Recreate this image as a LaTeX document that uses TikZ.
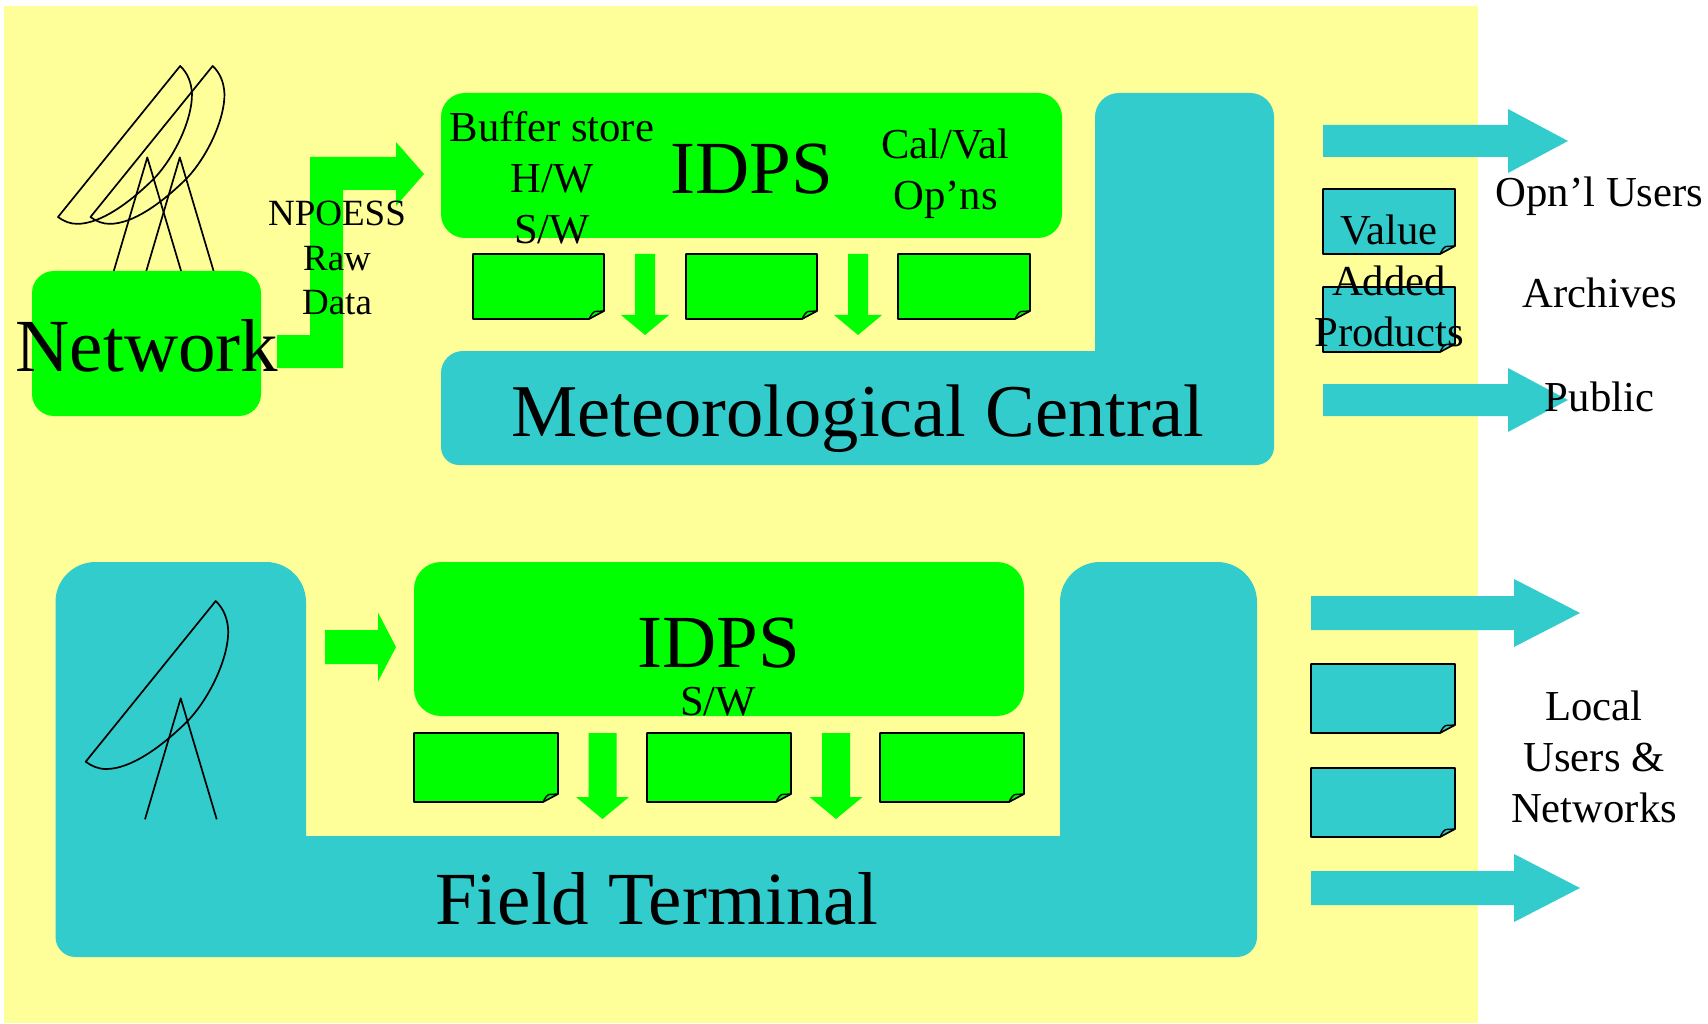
\documentclass[tikz,border=0pt]{standalone}
\usepackage{fontspec}
\setmainfont{Liberation Serif}
\definecolor{paleyellow}{HTML}{FFFF99}
\definecolor{brightgreen}{HTML}{00FF00}
\definecolor{tealblue}{HTML}{33CCCC}
\newcommand{\bigsize}{\fontsize{75}{75}\selectfont}
\newcommand{\metsize}{\fontsize{74.5}{75}\selectfont}
\newcommand{\midsize}{\fontsize{42.7}{51}\selectfont}
\newcommand{\smallsize}{\fontsize{37}{44.5}\selectfont}
\newcommand{\blockright}[7]{\fill[#7] (#1,#2-#5) -- (#3,#2-#5) -- (#3,#2-#6) -- (#4,#2) -- (#3,#2+#6) -- (#3,#2+#5) -- (#1,#2+#5) -- cycle;}
\newcommand{\blockdown}[6]{\fill[brightgreen] (#1-#4,#2) -- (#1+#4,#2) -- (#1+#4,#3) -- (#1+#5,#3) -- (#1,#6) -- (#1-#5,#3) -- (#1-#4,#3) -- cycle;}
\newcommand{\docpage}[5]{%
  \filldraw[fill=#5,draw=black,line width=1.7pt,line join=round] (#1,#2) -- (#3,#2) -- (#3,#4-8) -- (#3-15,#4) -- (#1,#4) -- cycle;
  \draw[line width=1.4pt,line join=round] (#3-15,#4) .. controls (#3-13,#4-4) and (#3-11,#4-7) .. (#3-9,#4-7.5) -- (#3,#4-8);}
\newcommand{\dishshape}{%
  \draw[line width=1.7pt,line join=round] (0,0) .. controls (6,4.5) and (13,7.5) .. (21,7.3) .. controls (45,7) and (75,-14) .. (102.3,-41) .. controls (125,-65) and (143,-105) .. (142.5,-131) .. controls (142,-143) and (138,-153) .. (130,-160.7) -- cycle;
  \draw[line width=1.7pt,line join=round] (59.3,57.6) -- (95,-63.4) -- (131,57.6);}
\tikzset{
  shapebox/.style={rounded corners=#1,inner sep=0pt,outer sep=0pt,draw=none},
  txt/.style={anchor=base,inner sep=0pt,outer sep=0pt,align=center,text=black},
  bigtxt/.style={txt,font=\bigsize},
  midtxt/.style={txt,font=\midsize},
  smalltxt/.style={txt,font=\smallsize}
}
\begin{document}
\begin{tikzpicture}[x=1pt,y=-1pt]
\useasboundingbox (0,0) rectangle (1708,1024);
\fill[white] (0,0) rectangle (1708,1024);
\fill[paleyellow] (4,6) rectangle (1478,1023);

% Top row: dishes
\begin{scope}[shift={(58,217)},scale=0.94]\dishshape\end{scope}
\begin{scope}[shift={(90.5,217)},scale=0.94]\dishshape\end{scope}

% Network box and data arrow
\fill[brightgreen] (277,335) -- (310,335) -- (310,157) -- (396,157) -- (396,142) -- (424,174) -- (396,206) -- (396,190) -- (343,190) -- (343,368) -- (277,368) -- cycle;
\node[shapebox=22pt,fill=brightgreen,minimum width=229pt,minimum height=145pt] (netbox) at (146.5,343.5) {};

% Meteorological central L shape
\fill[tealblue,rounded corners=24pt] (1095,351) -- (1095,93) -- (1274,93) -- (1274,300) -- (1274,360) [rounded corners=18pt] -- (1274,465) -- (441,465) [rounded corners=22pt] -- (441,351) [sharp corners] -- cycle;

% Upper IDPS
\node[shapebox=24pt,fill=brightgreen,minimum width=621pt,minimum height=145pt] (idpsa) at (751.5,165.5) {};
\docpage{473}{254}{604}{319}{brightgreen}
\docpage{686}{254}{817}{319}{brightgreen}
\docpage{898}{254}{1030}{319}{brightgreen}
\blockdown{645}{254}{315}{10}{24}{335}
\blockdown{858}{254}{315}{10}{24}{335}

% Upper right
\blockright{1323}{141}{1508}{1568}{16}{32}{tealblue}
\docpage{1323}{189}{1455}{254}{tealblue}
\docpage{1323}{287}{1455}{352}{tealblue}
\blockright{1323}{400}{1508}{1568}{16}{32}{tealblue}

% Field terminal L shape
\fill[tealblue,rounded corners=40pt] (306,836) -- (306,562) -- (55.5,562) -- (55.5,800) [rounded corners=20pt] -- (55.5,957) -- (1257,957) -- (1257,820) [rounded corners=40pt] -- (1257,562) -- (1060,562) [sharp corners] -- (1060,836) -- cycle;

% Lower dish
\begin{scope}[shift={(85.7,761.7)}]\dishshape\end{scope}

% Lower IDPS
\blockright{325}{647}{378}{396}{17}{34.5}{brightgreen}
\node[shapebox=27pt,fill=brightgreen,minimum width=610pt,minimum height=154pt] (idpsb) at (719,639) {};
\docpage{414}{733}{558}{802}{brightgreen}
\docpage{647}{733}{791}{802}{brightgreen}
\docpage{880}{733}{1024}{802}{brightgreen}
\blockdown{602.5}{733}{797}{14}{26.5}{819}
\blockdown{836}{733}{797}{14}{26.5}{819}

% Lower right
\blockright{1311}{613}{1514}{1580}{17}{34}{tealblue}
\docpage{1311}{664}{1455}{733}{tealblue}
\docpage{1311}{768}{1455}{837}{tealblue}
\blockright{1311}{888}{1514}{1580}{17}{34}{tealblue}

% Text
\node[bigtxt] (tnet) at (147,371) {Network};
\node[smalltxt] (traw) at (337,315) {NPOESS\\Raw\\Data};
\node[midtxt] (tbuf) at (552,244) {Buffer store\\H/W\\S/W};
\node[bigtxt] (tidpsa) at (751.5,194) {IDPS};
\node[midtxt] (tcal) at (945.5,210) {Cal/Val\\Op’ns};
\node[txt,font=\metsize] (tmet) at (858,436) {Meteorological Central};
\node[midtxt] (tval) at (1389,346) {Value\\Added\\Products};
\node[midtxt] (topn) at (1599.5,207) {Opn’l Users};
\node[midtxt] (tarc) at (1600,308) {Archives};
\node[midtxt] (tpub) at (1599.5,411) {Public};
\node[bigtxt] (tidpsb) at (719,667) {IDPS};
\node[midtxt] (tsw) at (718,715) {S/W};
\node[bigtxt] (tfield) at (656.5,924) {Field Terminal};
\node[midtxt] (tloc) at (1594,822.5) {Local\\Users \&\\Networks};
\end{tikzpicture}
\end{document}
